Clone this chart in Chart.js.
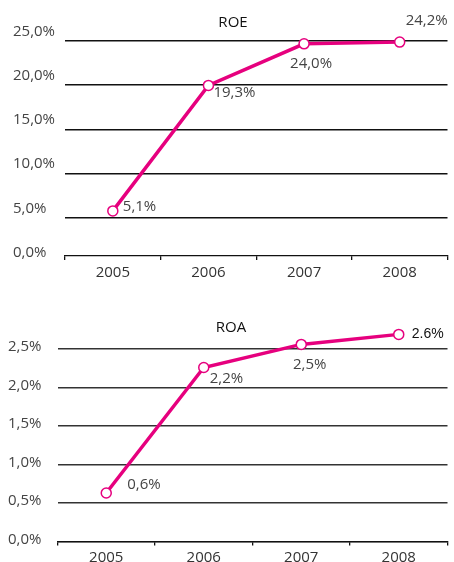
<!doctype html>
<html lang="en">
<head>
<meta charset="utf-8">
<title>ROE / ROA</title>
<script src="https://cdn.jsdelivr.net/npm/chart.js@4.4.1/dist/chart.umd.min.js"></script>
<style>
  html, body { margin: 0; padding: 0; background: #fff; overflow: hidden; }
  .box { position: absolute; left: 0; width: 454px; }
  #roeBox { top: 0; height: 288px; }
  #roaBox { top: 284px; height: 287px; }
</style>
</head>
<body>
<div class="box" id="roeBox"><canvas id="roe"></canvas></div>
<div class="box" id="roaBox"><canvas id="roa"></canvas></div>
<script>
  // data
  const years = ['2005', '2006', '2007', '2008'];
  const roeValues = [5.1, 19.3, 24.0, 24.2];
  const roeLabels = ['5,1%', '19,3%', '24,0%', '24,2%'];
  const roeTicks = [0, 5, 10, 15, 20, 25];
  const roaValues = [0.63, 2.26, 2.56, 2.69];
  const roaLabels = ['0,6%', '2,2%', '2,5%', '2.6%'];
  const roaTicks = [0, 0.5, 1, 1.5, 2, 2.5];

  const magenta = '#e6007e';
  const FONT = "'Open Sans', sans-serif";
  const pct = v => v.toFixed(1).replace('.', ',') + '%';
  const fixTicks = list => ax => { ax.ticks = list.map(v => ({ value: v })); };

  // value labels next to each point: [dx, dy, align, font, color]
  function labelPlugin(texts, place) {
    return {
      id: 'pointLabels',
      afterDatasetsDraw(chart) {
        const ctx = chart.ctx;
        const pts = chart.getDatasetMeta(0).data;
        ctx.save();
        ctx.textBaseline = 'middle';
        pts.forEach((p, i) => {
          const [dx, dy, align, font, color] = place[i];
          ctx.font = font || "15px 'Open Sans', sans-serif";
          ctx.fillStyle = color || '#444';
          ctx.textAlign = align;
          ctx.fillText(texts[i], p.x + dx, p.y + dy);
        });
        ctx.restore();
      }
    };
  }

  function lineChart(id, values, texts, place, s) {
    return new Chart(document.getElementById(id), {
      type: 'line',
      data: {
        labels: years,
        datasets: [{
          data: values,
          borderColor: magenta,
          borderWidth: 3.5,
          tension: 0,
          clip: false,
          pointRadius: 5,
          pointBorderWidth: 1.5,
          pointBackgroundColor: '#fff',
          pointBorderColor: magenta
        }]
      },
      options: {
        responsive: true,
        maintainAspectRatio: false,
        animation: false,
        layout: { padding: s.padding },
        plugins: {
          legend: { display: false },
          tooltip: { enabled: false },
          title: {
            display: true,
            text: s.title,
            color: '#111',
            font: { family: FONT, size: 15, weight: 'normal' },
            padding: { top: 0, bottom: 0 }
          }
        },
        scales: Object.assign({
          x: {
            offset: true,
            grid: { offset: true, drawOnChartArea: false, tickLength: 4, color: '#111', lineWidth: 1.3 },
            border: { display: true, color: '#111', width: 1.3 },
            ticks: { color: '#333', padding: s.xPad, font: { family: FONT, size: 15 } }
          },
          y: {
            min: s.min,
            max: s.max,
            afterBuildTicks: fixTicks(s.ticks),
            afterFit: ax => { ax.width = s.yWidth; },
            border: { display: false },
            grid: s.yGrid,
            ticks: {
              crossAlign: 'far',
              labelOffset: s.labelOffset,
              color: '#444',
              font: { family: FONT, size: 15 },
              callback: v => pct(v)
            }
          }
        }, s.extra || {})
      },
      plugins: [labelPlugin(texts, place)]
    });
  }

  lineChart('roe', roeValues, roeLabels,
    [[10, -4, 'left'], [5, 7, 'left'], [7, 20, 'center'], [6, -21, 'left']],
    {
      title: 'ROE',
      padding: { left: 13, right: 1, top: 14, bottom: 2 },
      xPad: 4,
      min: 0,
      max: 25.34,
      ticks: roeTicks,
      yWidth: 52,
      labelOffset: -3.5,
      yGrid: { display: false },
      extra: {
        // gridlines of the original sit a little below the value ticks
        yGrid: {
          position: 'left',
          min: 0.68,
          max: 26.02,
          afterBuildTicks: fixTicks([5, 10, 15, 20, 25]),
          afterFit: ax => { ax.width = 0; },
          ticks: { display: false },
          border: { display: false },
          grid: { color: '#111', lineWidth: 1.5, drawTicks: false }
        }
      }
    });

  lineChart('roa', roaValues, roaLabels,
    [[21, -8, 'left'], [6, 11, 'left'], [8.5, 20, 'center'], [13, 0, 'left', "14px 'Liberation Sans', sans-serif", '#111']],
    {
      title: 'ROA',
      padding: { left: 8, right: 0, top: 35, bottom: 1.5 },
      xPad: 3,
      min: 0,
      max: 2.656,
      ticks: roaTicks,
      yWidth: 49.5,
      labelOffset: -2,
      yGrid: { color: '#333', lineWidth: 1.5, drawTicks: false }
    });
</script>
</body>
</html>
